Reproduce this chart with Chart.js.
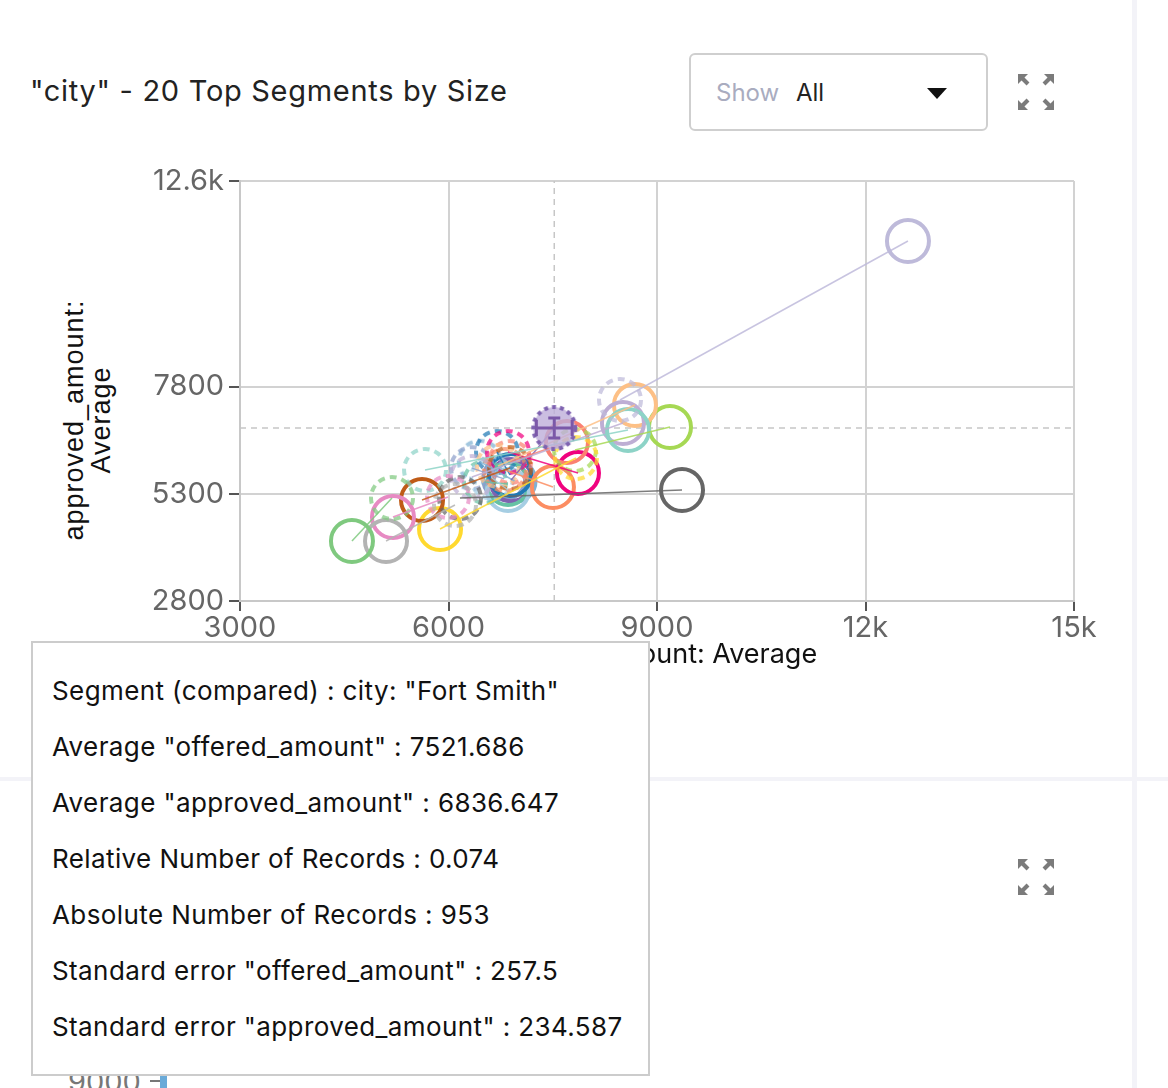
<!DOCTYPE html>
<html>
<head>
<meta charset="utf-8">
<script src="https://cdn.jsdelivr.net/npm/chart.js@4.4.1/dist/chart.umd.min.js"></script>
<style>
html,body{margin:0;padding:0;background:#fff;width:1168px;height:1088px;overflow:hidden;font-family:Inter,"Open Sans",sans-serif;}
.abs{position:absolute;}
#vstrip{left:1132px;top:0;width:5px;height:1088px;background:#f3f3f8;}
#hsep{left:0;top:777px;width:1168px;height:4px;background:#f3f3f8;}
#title{left:30px;top:73px;font-size:29px;line-height:36px;letter-spacing:0.7px;color:#222;white-space:nowrap;}
#dropdown{left:689px;top:53px;width:299px;height:78px;border:2px solid #cfcfcf;border-radius:6px;box-sizing:border-box;background:#fff;}
#dropdown .show{position:absolute;left:25px;top:23px;font-size:24px;line-height:30px;color:#a9acbf;}
#dropdown .all{position:absolute;left:105px;top:23px;font-size:24px;line-height:30px;color:#222;}
#dropdown svg{position:absolute;left:236px;top:33px;}
#ytitle{left:88px;top:420px;width:0;height:0;}
#ytitle div{position:absolute;left:0;top:0;transform:translate(-50%,-50%) rotate(-90deg);font-family:"Liberation Sans",Arial,sans-serif;font-size:27px;line-height:27px;letter-spacing:1px;color:#111;text-align:center;white-space:nowrap;}
#chartwrap{left:0;top:150px;}
#tooltip{left:31px;top:641px;width:619px;height:435px;border:2px solid #cccccc;box-sizing:border-box;background:#fff;padding-top:20px;padding-left:19px;}
#tooltip div{font-size:26px;line-height:56px;letter-spacing:0.4px;color:#111;white-space:nowrap;}
#bottom9000{left:68px;top:1066px;font-size:29px;line-height:32px;color:#777;}
#btick{left:150px;top:1080px;width:10px;height:2px;background:#777;}
#bbar{left:160px;top:1074px;width:7px;height:14px;background:#6aaad8;}
</style>
</head>
<body>
<div id="vstrip" class="abs"></div>
<div id="hsep" class="abs"></div>
<div id="title" class="abs"></div>
<div id="dropdown" class="abs"><span class="show">Show</span><span class="all">All</span>
<svg width="20" height="12"><polygon points="0,0 20,0 10,11" fill="#111"/></svg></div>
<svg class="abs" style="left:1016px;top:72px" width="40" height="40">
<g fill="#7b7b7b" stroke="#7b7b7b">
<polygon points="2,2 12,2 2,12" stroke="none"/><line x1="4" y1="4" x2="12" y2="12" stroke-width="4"/>
<polygon points="38,2 28,2 38,12" stroke="none"/><line x1="36" y1="4" x2="28" y2="12" stroke-width="4"/>
<polygon points="2,38 12,38 2,28" stroke="none"/><line x1="4" y1="36" x2="12" y2="28" stroke-width="4"/>
<polygon points="38,38 28,38 38,28" stroke="none"/><line x1="36" y1="36" x2="28" y2="28" stroke-width="4"/>
</g></svg>
<svg class="abs" style="left:1016px;top:857px" width="40" height="40">
<g fill="#7b7b7b" stroke="#7b7b7b">
<polygon points="2,2 12,2 2,12" stroke="none"/><line x1="4" y1="4" x2="12" y2="12" stroke-width="4"/>
<polygon points="38,2 28,2 38,12" stroke="none"/><line x1="36" y1="4" x2="28" y2="12" stroke-width="4"/>
<polygon points="2,38 12,38 2,28" stroke="none"/><line x1="4" y1="36" x2="12" y2="28" stroke-width="4"/>
<polygon points="38,38 28,38 38,28" stroke="none"/><line x1="36" y1="36" x2="28" y2="28" stroke-width="4"/>
</g></svg>
<div id="ytitle" class="abs"><div>approved_amount:<br>Average</div></div>
<div id="chartwrap" class="abs"><canvas id="c" width="1110" height="525" style="width:1110px;height:525px"></canvas></div>
<div id="bottom9000" class="abs">9000</div>
<div id="btick" class="abs"></div>
<div id="bbar" class="abs"></div>
<div id="tooltip" class="abs"></div>
<script>
// ---- data ----
const chartTitle = '"city" - 20 Top Segments by Size';
const xAxisTitle = 'offered_amount: Average';
const cities = ['Segment 01','Segment 02','Segment 03','Segment 04','Segment 05','Segment 06','Segment 07','Segment 08','Segment 09','Segment 10',
  'Segment 11','Segment 12','Segment 13','Segment 14','Segment 15','Segment 16','Segment 17','Fort Smith','Segment 19','Segment 20'];
const colors = ['#7fc97f','#b3b3b3','#e78ac3','#bf5b17','#ffd92f','#666666','#8dd3c7','#bebada','#beaed4','#fdc086',
  '#a6d854','#fb8072','#f0027f','#fc8d62','#1f78b4','#a6cee3','#66c2a5','#7e62b0','#8da0cb','#80b1d3'];
const comparedOffered  = [5187,6093,5993,6885,7834,6165,5662,8467,6338,6712, 7820,6885,6856,6813,6698,6626,6525,7521.686,6338,6450];
const comparedApproved = [5203,5040,5227,5903,6136,5203,5857,7490,5693,5950, 6323,6043,6276,5857,6276,5670,5576,6836.647,5900,6050];
const baseOffered      = [4611,5101,5201,5619,5878,9360,8583,12611,8510,8683, 9187,7705,7863,7503,6885,6856,6856,6900,6800,6950];
const baseApproved     = [4200,4200,4760,5157,4480,5390,6790,11200,6953,7373, 6860,6510,5787,5460,5740,5390,5530,5620,5650,5600];
const hoveredCity = 'Fort Smith';
const hoveredRelative = 0.074;
const hoveredAbsolute = 953;
const hoveredSeOffered = 257.5;
const hoveredSeApproved = 234.587;
const xTicks = [3000,6000,9000,12000,15000];
const xTickLabels = ['3000','6000','9000','12k','15k'];
const yTicks = [2800,5300,7800,12600];
const yTickLabels = ['2800','5300','7800','12.6k'];

// ---- page texts ----
document.getElementById('title').textContent = chartTitle;
const hi = cities.indexOf(hoveredCity);
const tipLines = [
  'Segment (compared) : city: "' + hoveredCity + '"',
  'Average "offered_amount" : ' + comparedOffered[hi],
  'Average "approved_amount" : ' + comparedApproved[hi],
  'Relative Number of Records : ' + hoveredRelative,
  'Absolute Number of Records : ' + hoveredAbsolute,
  'Standard error "offered_amount" : ' + hoveredSeOffered,
  'Standard error "approved_amount" : ' + hoveredSeApproved
];
const tip = document.getElementById('tooltip');
tipLines.forEach(t => { const d = document.createElement('div'); d.textContent = t; tip.appendChild(d); });

// ---- helpers ----
function rgba(hex, a){ const n=parseInt(hex.slice(1),16); return 'rgba('+(n>>16&255)+','+(n>>8&255)+','+(n&255)+','+a+')'; }
function dashedCircle(color, alpha, fill, dash, lw){
  const s = 54, c = document.createElement('canvas'); c.width = s; c.height = s;
  const g = c.getContext('2d');
  g.beginPath(); g.arc(s/2, s/2, 21, 0, Math.PI*2);
  if (fill) { g.fillStyle = fill; g.fill(); }
  g.setLineDash(dash); g.lineWidth = lw; g.strokeStyle = rgba(color, alpha); g.stroke();
  return c;
}

const xMin = xTicks[0], xMax = xTicks[xTicks.length-1];
const yMin = yTicks[0], yMax = yTicks[yTicks.length-1];
const datasets = [];
// crosshair through the hovered compared segment
datasets.push({data:[{x:comparedOffered[hi],y:yMin},{x:comparedOffered[hi],y:yMax}], showLine:true, borderColor:'#c6c6c6', borderWidth:1.5, borderDash:[6,5], pointRadius:0, order:100});
datasets.push({data:[{x:xMin,y:comparedApproved[hi]},{x:xMax,y:comparedApproved[hi]}], showLine:true, borderColor:'#c6c6c6', borderWidth:1.5, borderDash:[6,5], pointRadius:0, order:100});
for (let i = 0; i < cities.length; i++) {
  const isH = i === hi;
  datasets.push({label:cities[i]+' link', data:[{x:comparedOffered[i],y:comparedApproved[i]},{x:baseOffered[i],y:baseApproved[i]}],
    showLine:true, borderColor:rgba(colors[i],0.85), borderWidth:1.5, pointRadius:0, order:5});
  datasets.push({label:cities[i], data:[{x:baseOffered[i],y:baseApproved[i]}], pointRadius:21, borderWidth:4,
    borderColor:colors[i], backgroundColor:'rgba(0,0,0,0)', order:20});
  datasets.push({label:cities[i]+' (compared)', data:[{x:comparedOffered[i],y:comparedApproved[i]}], pointRadius:21,
    pointStyle: isH ? dashedCircle(colors[i], 1, 'rgba(190,174,218,0.8)', [4,4], 4) : dashedCircle(colors[i], 0.72, null, [7,5], 4),
    order: isH ? 0 : 10});
}

const errorBars = {
  id:'errorBars',
  afterDatasetsDraw(chart){
    const {ctx} = chart, sx = chart.scales.x, sy = chart.scales.y;
    const cx = sx.getPixelForValue(comparedOffered[hi]), cy = sy.getPixelForValue(comparedApproved[hi]);
    const x0 = sx.getPixelForValue(comparedOffered[hi]-hoveredSeOffered), x1 = sx.getPixelForValue(comparedOffered[hi]+hoveredSeOffered);
    const y0 = sy.getPixelForValue(comparedApproved[hi]-hoveredSeApproved), y1 = sy.getPixelForValue(comparedApproved[hi]+hoveredSeApproved);
    ctx.save(); ctx.strokeStyle = '#7b58a8'; ctx.lineWidth = 3; ctx.beginPath();
    ctx.moveTo(x0,cy); ctx.lineTo(x1,cy);
    ctx.moveTo(x0,cy-8); ctx.lineTo(x0,cy+8); ctx.moveTo(x1,cy-8); ctx.lineTo(x1,cy+8);
    ctx.moveTo(cx,y0); ctx.lineTo(cx,y1);
    ctx.moveTo(cx-6,y0); ctx.lineTo(cx+6,y0); ctx.moveTo(cx-6,y1); ctx.lineTo(cx+6,y1);
    ctx.stroke(); ctx.restore();
  }
};

const tickFont = {family:'Inter', size:29};
const chart = new Chart(document.getElementById('c'), {
  type:'scatter',
  data:{datasets},
  plugins:[errorBars],
  options:{
    responsive:false, animation:false, devicePixelRatio:1,
    layout:{padding:{left:0, top:31, right:36, bottom:0}},
    plugins:{legend:{display:false}, tooltip:{enabled:false}},
    events:[],
    scales:{
      x:{type:'linear', min:xMin, max:xMax,
        afterBuildTicks:s=>{ s.ticks = xTicks.map(v=>({value:v})); },
        afterFit:s=>{ s.height = 74; },
        ticks:{callback:v=>{const k=xTicks.indexOf(v);return k>=0?xTickLabels[k]:'';}, font:tickFont, color:'#666', padding:0, maxRotation:0, autoSkip:false},
        grid:{color:'#d2d2d2', lineWidth:2, tickColor:'#555', tickLength:10, tickWidth:2},
        border:{color:'#c8c8c8', width:2},
        title:{display:true, text:xAxisTitle, font:{family:'Inter', size:27}, color:'#111', padding:{top:4,bottom:4}}
      },
      y:{type:'linear', min:yMin, max:yMax,
        afterBuildTicks:s=>{ s.ticks = yTicks.map(v=>({value:v})); },
        afterFit:s=>{ s.width = 240; },
        ticks:{callback:v=>{const k=yTicks.indexOf(v);return k>=0?yTickLabels[k]:'';}, font:tickFont, color:'#666', padding:5, autoSkip:false},
        grid:{color:'#d2d2d2', lineWidth:2, tickColor:'#555', tickLength:11, tickWidth:2},
        border:{color:'#c8c8c8', width:2}
      }
    }
  }
});
// align plot area with the reference frame
const canvasTop = 150, canvasLeft = 0, target = {top:181, right:1074};
for (let k = 0; k < 3; k++) {
  const a = chart.chartArea, p = chart.options.layout.padding;
  p.top += (target.top - canvasTop) - a.top;
  p.right += a.right - (target.right - canvasLeft);
  chart.update('none');
}
</script>
</body>
</html>
